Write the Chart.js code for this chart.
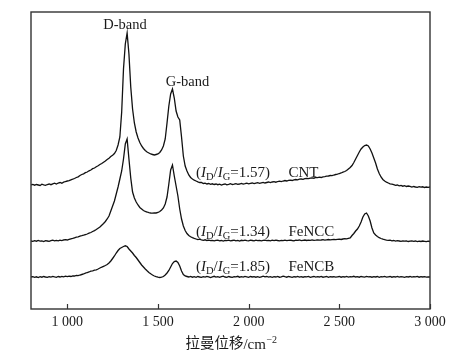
<!DOCTYPE html>
<html><head><meta charset="utf-8">
<script src="https://cdn.jsdelivr.net/npm/chart.js@4"></script>
<style>html,body{margin:0;padding:0;background:#fff}#wrap{width:473px;height:361px}</style>
</head><body><div id="wrap"><canvas id="c" width="473" height="361"></canvas></div>
<script>
const ramanShift = [
800,810,820,830,840,850,860,870,880,890,
900,910,920,930,940,950,960,970,980,990,
1000,1010,1020,1030,1040,1050,1060,1070,1080,1090,
1100,1110,1120,1130,1140,1150,1160,1170,1180,1190,
1200,1210,1220,1230,1240,1250,1260,1270,1280,1290,
1300,1310,1320,1330,1340,1350,1360,1370,1380,1390,
1400,1410,1420,1430,1440,1450,1460,1470,1480,1490,
1500,1510,1520,1530,1540,1550,1560,1570,1580,1590,
1600,1610,1620,1630,1640,1650,1660,1670,1680,1690,
1700,1710,1720,1730,1740,1750,1760,1770,1780,1790,
1800,1810,1820,1830,1840,1850,1860,1870,1880,1890,
1900,1910,1920,1930,1940,1950,1960,1970,1980,1990,
2000,2010,2020,2030,2040,2050,2060,2070,2080,2090,
2100,2110,2120,2130,2140,2150,2160,2170,2180,2190,
2200,2210,2220,2230,2240,2250,2260,2270,2280,2290,
2300,2310,2320,2330,2340,2350,2360,2370,2380,2390,
2400,2410,2420,2430,2440,2450,2460,2470,2480,2490,
2500,2510,2520,2530,2540,2550,2560,2570,2580,2590,
2600,2610,2620,2630,2640,2650,2660,2670,2680,2690,
2700,2710,2720,2730,2740,2750,2760,2770,2780,2790,
2800,2810,2820,2830,2840,2850,2860,2870,2880,2890,
2900,2910,2920,2930,2940,2950,2960,2970,2980,2990,
3000];
const cntIntensity = [
124,124.6,123.8,124.5,124,123.5,124.8,124.2,123.7,124.5,
125,124.3,125.2,125.8,125,126,126.5,125.8,126.8,127.5,
128,128.3,129.2,129.8,130.5,131.5,132.2,133.5,134.5,135.2,
136.3,137,138.2,139,140.3,141,142.3,143.2,144.5,145.5,
146.8,148,149.5,150.8,152.5,153.8,155.5,158.5,164,172,
197,240,265,276,255,222,200,186,177,171,
166.5,163,160.5,158.5,157,156,155,154.5,154,154.5,
155,156.5,159,163,170,186,203,215,220,211,
198,192,189,172,153,143,138,134,131.5,130,
128.8,128,127.2,126.5,126.5,125.5,125.8,125,125.5,124.6,
125.2,124.5,125,124.3,124.8,124,124.7,125,124.2,124.6,
125.3,124.5,124.8,125.4,124.6,125,125.6,124.9,125.3,125.8,
125.2,125.6,126,125.4,125.9,126.3,125.7,126.2,126.6,126,
126.5,127,126.4,127,127.3,126.8,127.5,127.9,127.4,128,
128.5,128,128.7,128.9,128.5,129.2,129.5,129.2,129.8,130,
129.7,130.4,130.6,130.3,130.9,131.2,130.8,131.5,131.3,131.8,
131.5,132.2,132.4,132.8,133,133.5,133.3,134,134.5,134.8,
135.5,136,136.8,137.5,138.5,140,141.5,143.5,146.5,150,
153.5,157,160,162,163.5,164,163,160,156,151,
146,140,135.5,132,129.5,128,126.8,126,125.2,124.8,
124.3,123.6,124,123.2,123.6,122.8,123.3,122.5,123,122.6,
121.9,122.5,122,121.6,122.3,121.8,122.2,121.5,122,121.7,
122];
const fenccIntensity = [
68,67.6,68.3,67.8,68.5,67.9,68.2,67.5,68.4,68,
67.6,68.3,68.8,68.1,68.6,68.2,68.9,68.4,69,69.3,
69,69.6,70.2,70.6,71.2,71.8,72.2,72.9,73.3,73.8,
74.4,75,75.8,76.5,77.5,78.4,79.5,80.8,82,83.8,
85.5,87.5,90,93,98,103,108,115,122,130,
138,150,165,170,150,131,117,111,107,104,
101.5,100,98.5,97.5,97,96.3,96,95.8,96.2,96,
96.5,97.5,99,101,105,112,125,139,144,133,
123,113,100,90,83,78.5,75.5,73.5,72.2,71.3,
70.6,70,69.4,69.8,69,68.6,69.2,68.5,68.9,68.3,
68.7,68.1,68.6,68.9,68.2,68.5,67.9,68.6,68.3,68.8,
68.1,68.5,68.9,68.2,68.6,68,68.7,68.3,68.9,68.4,
68.1,68.8,68.5,68.2,68.9,68.4,68.7,68.1,68.6,68.9,
68.3,68.6,68.2,68.8,68.4,68.9,68.5,68.2,68.7,68.4,
68.8,68.3,68.7,68.9,68.5,68.2,68.8,68.6,69,68.4,
68.7,69,68.5,68.9,68.6,69.1,68.7,68.9,69.2,68.8,
69,69.3,68.9,69.2,69.5,69.1,69.4,69.7,69.3,69.6,
69.9,69.5,70,70.3,70.1,70.6,71,73.5,75.5,78,
80,83,87,92,95,96,93,88,81,76,
74,72.5,71.3,70.5,69.8,69.3,68.9,68.6,68.8,68.2,
68.5,67.9,68.3,68,67.6,68.2,67.8,68.1,67.5,67.9,
68.2,67.6,68,67.4,67.9,67.5,68,67.7,67.3,67.8,
67.5];
const fencbIntensity = [
32,32.4,31.7,32.2,31.5,32.3,31.8,32.5,32,31.6,
32.4,31.9,32.6,32.1,31.7,32.5,32,32.6,32.2,32.8,
32.4,32.9,32.5,33.2,33,33.6,33.3,34,34.5,35,
35.8,36.5,37,37.8,38.2,38.8,39.2,40,41,41.8,
42.7,43.5,44.5,46,48,50.5,53,56,58.5,60.5,
61.5,62.5,63.2,62.5,60,58,56,53.5,51.5,49,
46.5,44,42,40,38.2,36.5,35.2,34,33,32.3,
31.8,31.5,31.8,32.5,34,36,38.5,42,45.5,47.5,
48,46.5,43,38,34.5,33,32.5,32,32.6,31.8,
32.3,31.7,32.5,32,31.6,32.4,31.9,32.6,32.1,31.5,
32.2,32.7,31.9,32.4,31.6,32.3,32.8,32,31.7,32.5,
32,31.6,32.4,32.1,32.7,31.8,32.3,31.9,32.6,32.2,
31.7,32.5,32,32.4,31.8,32.3,31.6,32.2,32.8,32.1,
32.5,31.9,32.3,31.7,32.4,32,32.6,31.8,32.2,32.9,
32.3,31.8,32.5,32.1,31.7,32.4,32,32.6,31.9,32.3,
31.8,32.4,32.1,32.6,31.7,32.2,32.5,31.9,32.3,32,
32.6,31.8,32.2,32.5,31.7,32.3,32,32.4,31.9,32.2,
32.5,31.8,32.3,32,32.6,31.9,32.4,32.1,32.7,32,
32.3,31.8,32.5,32.2,31.9,32.6,32.1,32.4,31.8,32.3,
32,32.5,31.7,32.3,32.1,32.6,31.9,32.2,32.5,31.8,
32.4,32,32.6,31.9,32.3,32.1,31.7,32.4,32,32.5,
31.9,32.3,32.1,32.6,31.8,32.4,32,32.3,31.9,32.2,
32];
const tickValues = [1000, 1500, 2000, 2500, 3000];
const tickLabels = ['1 000', '1 500', '2 000', '2 500', '3 000'];
const seriesNames = ['CNT', 'FeNCC', 'FeNCB'];
const ratioValues = ['1.57', '1.34', '1.85'];
const bandLabels = ['D-band', 'G-band'];
const axisTitleCJK = '拉曼位移';
const axisTitleUnit = '/cm';
const axisTitleSup = '−2';

const SERIF = '"Liberation Serif", "Times New Roman", serif';
const CJK = '"Noto Sans CJK SC", ' + SERIF;
const TXT = '#1a1a1a';

function toPoints(arr) { return ramanShift.map((x, i) => ({ x: x, y: arr[i] })); }

function drawRatio(ctx, x, y, val) {
  let cx = x;
  const seg = (t, font, dy) => { ctx.font = font; ctx.fillText(t, cx, y + (dy || 0)); cx += ctx.measureText(t).width; };
  seg('(', '15px ' + SERIF);
  seg('I', 'italic 15px ' + SERIF);
  seg('D', '10.5px ' + SERIF, 3);
  seg('/', '15px ' + SERIF);
  seg('I', 'italic 15px ' + SERIF);
  seg('G', '10.5px ' + SERIF, 3);
  seg('=' + val + ')', '15px ' + SERIF);
}

const framePlugin = {
  id: 'frame',
  afterDraw(chart) {
    const ctx = chart.ctx, a = chart.chartArea, xs = chart.scales.x;
    ctx.save();
    ctx.strokeStyle = '#333';
    ctx.lineWidth = 1.4;
    ctx.strokeRect(a.left, a.top, a.right - a.left, a.bottom - a.top);
    ctx.lineWidth = 1.2;
    tickValues.forEach(v => {
      const px = Math.round(xs.getPixelForValue(v)) + 0.5;
      ctx.beginPath(); ctx.moveTo(px, a.bottom); ctx.lineTo(px, a.bottom - 5); ctx.stroke();
    });
    ctx.fillStyle = TXT;
    ctx.textBaseline = 'alphabetic';
    ctx.font = '14.5px ' + SERIF;
    ctx.textAlign = 'center';
    ctx.fillText(bandLabels[0], 125, 28.5);
    ctx.fillText(bandLabels[1], 187.5, 85.5);
    ctx.textAlign = 'left';
    const baselines = [176.5, 235.5, 270.5];
    seriesNames.forEach((n, i) => {
      drawRatio(ctx, 196, baselines[i], ratioValues[i]);
      ctx.font = '15px ' + SERIF;
      ctx.fillText(n, 288.5, baselines[i]);
    });
    // axis title
    const fCJK = '14.5px ' + CJK, fUnit = '15px ' + SERIF, fSup = '10px ' + SERIF;
    ctx.font = fCJK; const w1 = ctx.measureText(axisTitleCJK).width;
    ctx.font = fUnit; const w2 = ctx.measureText(axisTitleUnit).width;
    ctx.font = fSup; const w3 = ctx.measureText(axisTitleSup).width;
    let tx = 231 - (w1 + w2 + w3) / 2;
    const ty = 348.5;
    ctx.font = fCJK; ctx.fillText(axisTitleCJK, tx, ty - 0.5); tx += w1;
    ctx.font = fUnit; ctx.fillText(axisTitleUnit, tx, ty); tx += w2;
    ctx.font = fSup; ctx.fillText(axisTitleSup, tx + 0.5, ty - 6);
    ctx.restore();
  }
};

const ds = [cntIntensity, fenccIntensity, fencbIntensity].map((arr, i) => ({
  label: seriesNames[i],
  data: toPoints(arr),
  borderColor: '#111',
  borderWidth: 1.3,
  pointRadius: 0,
  tension: 0,
  fill: false
}));

new Chart(document.getElementById('c'), {
  type: 'line',
  data: { datasets: ds },
  options: {
    responsive: false,
    animation: false,
    devicePixelRatio: 1,
    layout: { padding: { left: 31, right: 43, top: 12, bottom: 0 } },
    plugins: { legend: { display: false }, tooltip: { enabled: false } },
    scales: {
      x: {
        type: 'linear', min: 800, max: 3000,
        afterBuildTicks: s => { s.ticks = tickValues.map(v => ({ value: v })); },
        afterFit: s => { s.height = 52; },
        grid: { display: false, drawTicks: false },
        border: { display: false },
        ticks: {
          padding: 5, color: TXT, maxRotation: 0, autoSkip: false,
          font: { family: SERIF, size: 14 },
          callback: v => tickLabels[tickValues.indexOf(v)]
        }
      },
      y: { display: false, min: 0, max: 297 }
    }
  },
  plugins: [framePlugin]
});
</script>
</body></html>
